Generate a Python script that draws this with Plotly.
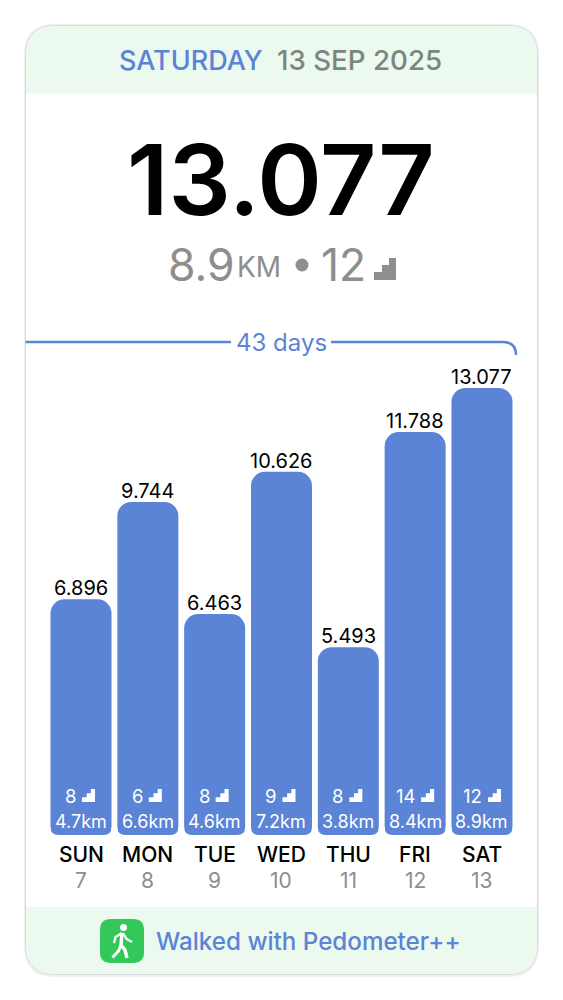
import plotly.graph_objects as go

# ---- data ----
days = ["SUN", "MON", "TUE", "WED", "THU", "FRI", "SAT"]
dates = ["7", "8", "9", "10", "11", "12", "13"]
steps = [6896, 9744, 6463, 10626, 5493, 11788, 13077]
step_labels = ["6.896", "9.744", "6.463", "10.626", "5.493", "11.788", "13.077"]
floors = [8, 6, 8, 9, 8, 14, 12]
km = ["4.7km", "6.6km", "4.6km", "7.2km", "3.8km", "8.4km", "8.9km"]

W, H = 563, 1000
BLUE = "#5b84d6"
GRAY = "#8e8e8e"
GREEN_BG = "#ebf9ef"
FONT = "Inter"
PX_PER_STEP = 447 / 13077
SPACING = 66.83
BAR_PX = 61
BOTTOM = 835


def px(x):
    return x / W


def py(y):
    return 1 - y / H


def P(*pts):
    return "M" + " L".join(f"{px(a):.5f},{py(b):.5f}" for a, b in pts) + " Z"


def round_band(x0, y0, x1, y1, rt, rb):
    s = f"M{px(x0):.5f},{py(y0 + rt):.5f} "
    if rt:
        s += f"Q{px(x0):.5f},{py(y0):.5f} {px(x0 + rt):.5f},{py(y0):.5f} "
        s += f"L{px(x1 - rt):.5f},{py(y0):.5f} Q{px(x1):.5f},{py(y0):.5f} {px(x1):.5f},{py(y0 + rt):.5f} "
    else:
        s += f"L{px(x1):.5f},{py(y0):.5f} "
    if rb:
        s += f"L{px(x1):.5f},{py(y1 - rb):.5f} Q{px(x1):.5f},{py(y1):.5f} {px(x1 - rb):.5f},{py(y1):.5f} "
        s += f"L{px(x0 + rb):.5f},{py(y1):.5f} Q{px(x0):.5f},{py(y1):.5f} {px(x0):.5f},{py(y1 - rb):.5f} "
    else:
        s += f"L{px(x1):.5f},{py(y1):.5f} L{px(x0):.5f},{py(y1):.5f} "
    return s + "Z"


shapes = []
# card shadow, body, bands, outline
shapes.append(dict(type="path", xref="paper", yref="paper", layer="below",
                   path=round_band(24, 24, 539, 977, 31, 31), fillcolor="#efefef", line_width=0))
shapes.append(dict(type="path", xref="paper", yref="paper", layer="below",
                   path=round_band(25.5, 25.5, 537.5, 974.5, 30, 30), fillcolor="white",
                   line=dict(color="#dadada", width=1)))
shapes.append(dict(type="path", xref="paper", yref="paper", layer="below",
                   path=round_band(26, 26, 537, 93.5, 29, 0), fillcolor=GREEN_BG, line_width=0))
shapes.append(dict(type="path", xref="paper", yref="paper", layer="below",
                   path=round_band(26, 907, 537, 974, 0, 29), fillcolor=GREEN_BG, line_width=0))

# "43 days" bracket
shapes.append(dict(type="path", xref="paper", yref="paper",
                   path=f"M{px(25.5)},{py(342)} L{px(231)},{py(342)}",
                   line=dict(color=BLUE, width=2.5)))
shapes.append(dict(type="path", xref="paper", yref="paper",
                   path=f"M{px(331)},{py(342)} L{px(503)},{py(342)} Q{px(516)},{py(342)} {px(516)},{py(355)}",
                   line=dict(color=BLUE, width=2.5)))


def stair(x, y_bottom, s, color):
    return dict(type="path", xref="paper", yref="paper", line_width=0, fillcolor=color,
                path=P((x, y_bottom), (x + s, y_bottom), (x + s, y_bottom - s),
                       (x + s * 0.68, y_bottom - s), (x + s * 0.68, y_bottom - s * 0.68),
                       (x + s * 0.36, y_bottom - s * 0.68), (x + s * 0.36, y_bottom - s * 0.36),
                       (x, y_bottom - s * 0.36)))


def corner_mask(x, sign, r=8):
    # white notch that rounds a bar's lower corner; sign=+1 left corner, -1 right corner
    o = x - sign * 1
    e = x + sign * r
    return dict(type="path", xref="paper", yref="paper", line_width=0, fillcolor="white",
                path=(f"M{px(o):.5f},{py(BOTTOM + 1):.5f} L{px(o):.5f},{py(BOTTOM - r):.5f} "
                      f"L{px(x):.5f},{py(BOTTOM - r):.5f} "
                      f"Q{px(x):.5f},{py(BOTTOM):.5f} {px(e):.5f},{py(BOTTOM):.5f} "
                      f"L{px(e):.5f},{py(BOTTOM + 1):.5f} Z"))


# big stair icon
shapes.append(stair(374, 280, 22, GRAY))
# bullet
shapes.append(dict(type="circle", xref="paper", yref="paper", fillcolor=GRAY, line_width=0,
                   x0=px(295.5), x1=px(308.5), y0=py(271.5), y1=py(258.5)))

# footer icon
shapes.append(dict(type="path", xref="paper", yref="paper", fillcolor="#34c759", line_width=0,
                   path=round_band(100, 919, 144, 963, 11, 11)))
shapes.append(dict(type="circle", xref="paper", yref="paper", fillcolor="white", line_width=0,
                   x0=px(120), x1=px(127), y0=py(931), y1=py(924)))
for seg, w in [([(122, 933), (121, 945), (125, 950), (127, 958)], 3.4),
               ([(121, 945), (118.5, 951), (112.5, 957.5)], 3.0),
               ([(122, 933), (115.5, 937), (114, 943)], 2.2),
               ([(123, 933), (126.5, 939), (132, 942)], 2.2)]:
    path = "M" + " L".join(f"{px(a):.5f},{py(b):.5f}" for a, b in seg)
    shapes.append(dict(type="path", xref="paper", yref="paper", path=path,
                       line=dict(color="white", width=w)))

ann = []


def text(x, y, s, size, color, anchor="center", weight=400, xref="paper"):
    ann.append(dict(x=px(x) if xref == "paper" else x, y=py(y), xref=xref, yref="paper",
                    text=s, showarrow=False, xanchor=anchor, yanchor="middle",
                    font=dict(family=FONT, size=size, color=color, weight=weight)))


text(116.5, 60, "SATURDAY", 27, BLUE, "left", 500)
text(275, 60, "13 SEP 2025", 27.7, "#7d857f", "left", 500)
text(281, 179, step_labels[-1], 98, "black", "center", 600)
text(165.5, 265, "8.9", 44.5, GRAY, "left", 400)
text(235, 267, "KM", 28, GRAY, "left", 400)
text(319, 265, "12", 44.5, GRAY, "left", 400)
text(281.5, 342, "43 days", 24, BLUE, "center", 400)
text(153.5, 941, "Walked with Pedometer++", 24.2, BLUE, "left", 500)

for i, d in enumerate(days):
    cx = 81 + SPACING * i
    f = str(floors[i])
    icon_left = cx + (1 if len(f) == 1 else 6)
    shapes.append(stair(icon_left, 802, 13, "white"))
    shapes.append(corner_mask(cx - BAR_PX / 2, 1))
    shapes.append(corner_mask(cx + BAR_PX / 2, -1))
    text(icon_left - 4, 795.5, f, 18.5, "white", "right", 400)
    text(i, 821, km[i], 18, "white", "center", 400, xref="x")
    text(i, 854, d, 21, "black", "center", 500, xref="x")
    text(i, 880.5, dates[i], 21, GRAY, "center", 400, xref="x")
    # value label anchored to the bar's top through the data axis
    ann.append(dict(x=i, y=steps[i], xref="x", yref="y", text=step_labels[i], showarrow=False,
                    xanchor="center", yanchor="bottom", yshift=-3,
                    font=dict(family=FONT, size=20, color="black")))

idx = list(range(len(days)))
fig = go.Figure()
fig.add_bar(x=idx, y=steps, marker=dict(color=BLUE, cornerradius=14, line_width=0),
            hoverinfo="skip", showlegend=False)

fig.update_layout(
    width=W, height=H, margin=dict(l=0, r=0, t=0, b=0),
    paper_bgcolor="white", plot_bgcolor="rgba(0,0,0,0)",
    bargap=1 - BAR_PX / SPACING,
    xaxis=dict(visible=False, range=[-81 / SPACING, (W - 81) / SPACING], fixedrange=True),
    yaxis=dict(visible=False, range=[-(H - BOTTOM) / PX_PER_STEP, BOTTOM / PX_PER_STEP], fixedrange=True),
    shapes=shapes, annotations=ann,
)

fig.write_html("out.html", config=dict(displayModeBar=False),
               post_script="document.body.style.margin='0';document.body.style.overflow='hidden';")
